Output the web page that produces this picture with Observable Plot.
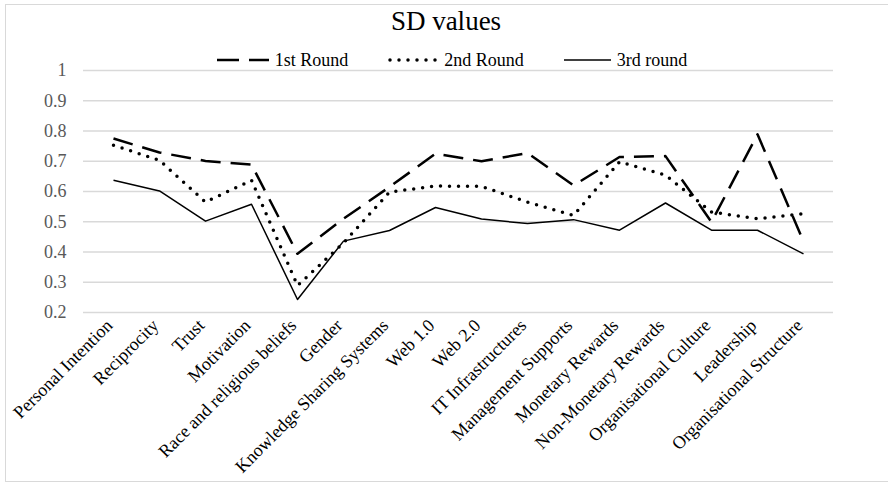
<!DOCTYPE html>
<html>
<head>
<meta charset="utf-8">
<script src="https://cdn.jsdelivr.net/npm/d3@7"></script>
<script src="https://cdn.jsdelivr.net/npm/@observablehq/plot@0.6"></script>
<style>
  html, body { margin: 0; padding: 0; background: #fff; }
  #wrap { position: relative; width: 888px; height: 484px; overflow: hidden; font-family: "Liberation Serif", "Times New Roman", serif; }
  #frame { position: absolute; left: 5px; top: 4px; width: 900px; height: 478px; border: 1px solid #d9d9d9; box-sizing: border-box; }
  #title { position: absolute; left: 0; top: 4px; width: 892px; text-align: center; font-size: 27px; line-height: 34px; color: #000; }
  #legend { position: absolute; left: 0; top: 49px; width: 904px; display: flex; justify-content: center; gap: 40px; font-size: 18px; line-height: 22px; color: #000; }
  .item { display: flex; align-items: center; gap: 6px; }
  #chart { position: absolute; left: 0; top: 0; }
  #chart svg, #chart svg g, #chart svg text { font-family: "Liberation Serif", serif !important; font-variant: normal !important; font-variant-numeric: normal !important; }
</style>
</head>
<body>
<div id="wrap">
  <div id="frame"></div>
  <div id="chart"></div>
  <div id="title">SD values</div>
  <div id="legend"></div>
</div>
<script>
const categories = [
  "Personal Intention", "Reciprocity", "Trust", "Motivation",
  "Race and religious beliefs", "Gender", "Knowledge Sharing Systems",
  "Web 1.0", "Web 2.0", "IT Infrastructures", "Management Supports",
  "Monetary Rewards", "Non-Monetary Rewards", "Organisational Culture",
  "Leadership", "Organisational Structure"
];
const round1 = [0.775, 0.729, 0.701, 0.689, 0.394, 0.51, 0.615, 0.725, 0.700, 0.727, 0.620, 0.714, 0.717, 0.499, 0.789, 0.435];
const round2 = [0.753, 0.703, 0.565, 0.637, 0.289, 0.43, 0.598, 0.618, 0.617, 0.565, 0.521, 0.698, 0.654, 0.532, 0.510, 0.527];
const round3 = [0.637, 0.602, 0.502, 0.558, 0.243, 0.436, 0.471, 0.547, 0.509, 0.494, 0.507, 0.472, 0.562, 0.472, 0.472, 0.394];
const seriesNames = ["1st Round", "2nd Round", "3rd round"];
const yTicks = [0.2, 0.3, 0.4, 0.5, 0.6, 0.7, 0.8, 0.9, 1];
const yTickLabels = ["0.2", "0.3", "0.4", "0.5", "0.6", "0.7", "0.8", "0.9", "1"];

const FONT = "Liberation Serif";
const styles = {
  "1st Round": {strokeWidth: 2.5, strokeDasharray: "20,10", strokeLinecap: "butt"},
  "2nd Round": {strokeWidth: 3.5, strokeDasharray: "0,9", strokeLinecap: "round"},
  "3rd round": {strokeWidth: 1.5, strokeDasharray: null, strokeLinecap: "butt"}
};

const allSeries = [round1, round2, round3];
const rows = allSeries.flatMap((vals, s) => vals.map((v, i) => ({cat: categories[i], value: v, series: seriesNames[s]})));

const marks = [
  Plot.gridY(yTicks, {stroke: "#d9d9d9", strokeOpacity: 1, strokeWidth: 1.3}),
  Plot.axisY({ticks: yTicks, tickSize: 0, tickPadding: 17, tickFormat: d => yTickLabels[yTicks.findIndex(t => Math.abs(t - d) < 1e-9)], fill: "#595959", fontSize: 18, fontFamily: FONT, fontVariant: "normal"}),
  Plot.axisX({tickRotate: -45, tickSize: 0, tickPadding: 10, dx: -4, fill: "#000", fontSize: 18, fontFamily: FONT, label: null})
];
seriesNames.forEach(name => {
  const st = styles[name];
  marks.push(Plot.line(rows.filter(r => r.series === name), {
    x: "cat", y: "value", stroke: "#000",
    strokeWidth: st.strokeWidth,
    strokeDasharray: st.strokeDasharray,
    strokeLinecap: st.strokeLinecap,
    strokeLinejoin: "round"
  }));
});

const chart = Plot.plot({
  width: 888,
  height: 484,
  marginTop: 70,
  marginBottom: 172,
  marginLeft: 83,
  marginRight: 55,
  style: {fontFamily: "Liberation Serif, serif", fontSize: "18px", background: "transparent", overflow: "visible"},
  x: {type: "point", domain: categories, padding: 0.5, label: null},
  y: {domain: [0.2, 1], label: null},
  marks
});
document.getElementById("chart").appendChild(chart);

// legend
const legend = document.getElementById("legend");
const sampleW = [52, 50, 47];
seriesNames.forEach((name, i) => {
  const st = styles[name];
  const item = document.createElement("div");
  item.className = "item";
  const w = sampleW[i];
  const svg = d3.create("svg").attr("width", w).attr("height", 10);
  svg.append("line").attr("x1", st.strokeLinecap === "round" ? 2 : 0).attr("x2", w).attr("y1", 5).attr("y2", 5)
    .attr("stroke", "#000").attr("stroke-width", st.strokeWidth)
    .attr("stroke-dasharray", st.strokeDasharray === "20,10" ? "22,10" : st.strokeDasharray)
    .attr("stroke-linecap", st.strokeLinecap);
  item.appendChild(svg.node());
  const span = document.createElement("span");
  span.textContent = name;
  item.appendChild(span);
  legend.appendChild(item);
});
</script>
</body>
</html>
